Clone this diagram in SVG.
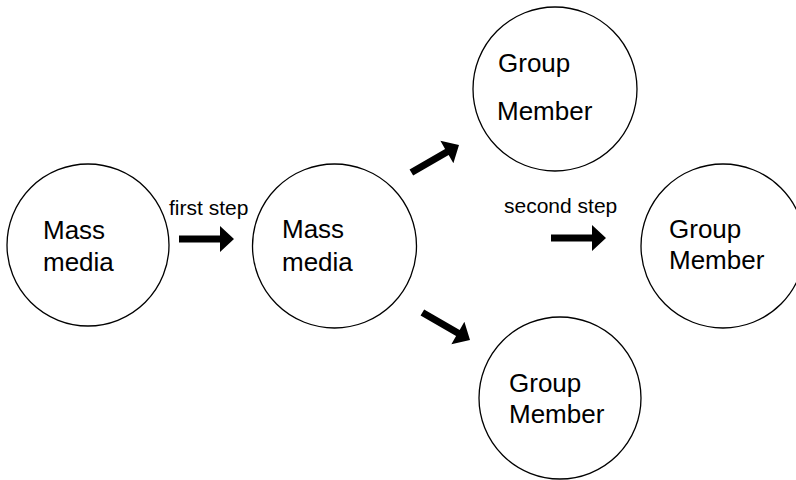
<svg xmlns="http://www.w3.org/2000/svg" width="796" height="480" viewBox="0 0 796 480">
<style>
.node{fill:#fff;stroke:#000;stroke-width:1.3}
.lbl{font-family:"Liberation Sans",Arial,sans-serif;font-size:26px;fill:#000}
.step{font-family:"Liberation Sans",Arial,sans-serif;font-size:21px;fill:#000}
.arr{fill:#000}
</style>
<defs>
<path id="blockArrow" d="M-55,-3.6 L-14,-3.6 L-14,-13 L0,0 L-14,13 L-14,3.6 L-55,3.6 Z"/>
</defs>
<rect width="796" height="480" fill="#fff"/>
<g id="mass-media-1">
<circle class="node" cx="88" cy="245" r="81"/>
<text class="lbl" x="43" y="239">Mass</text>
<text class="lbl" x="43" y="271">media</text>
</g>
<g id="mass-media-2">
<circle class="node" cx="334.5" cy="246" r="82"/>
<text class="lbl" x="282" y="238">Mass</text>
<text class="lbl" x="282" y="271">media</text>
</g>
<g id="group-member-top">
<circle class="node" cx="555" cy="89" r="82"/>
<text class="lbl" x="498" y="72">Group</text>
<text class="lbl" x="497" y="120">Member</text>
</g>
<g id="group-member-right">
<circle class="node" cx="723" cy="246" r="82"/>
<text class="lbl" x="669" y="238">Group</text>
<text class="lbl" x="669" y="269">Member</text>
</g>
<g id="group-member-bottom">
<circle class="node" cx="560" cy="398" r="81"/>
<text class="lbl" x="509" y="392">Group</text>
<text class="lbl" x="509" y="423">Member</text>
</g>
<g id="connectors">
<use href="#blockArrow" class="arr" transform="translate(234,239)"/>
<text class="step" x="169" y="215">first step</text>
<use href="#blockArrow" class="arr" transform="translate(459,145) rotate(-30)"/>
<use href="#blockArrow" class="arr" transform="translate(470,340) rotate(30)"/>
<use href="#blockArrow" class="arr" transform="translate(606,238)"/>
<text class="step" x="504" y="213">second step</text>
</g>
</svg>
